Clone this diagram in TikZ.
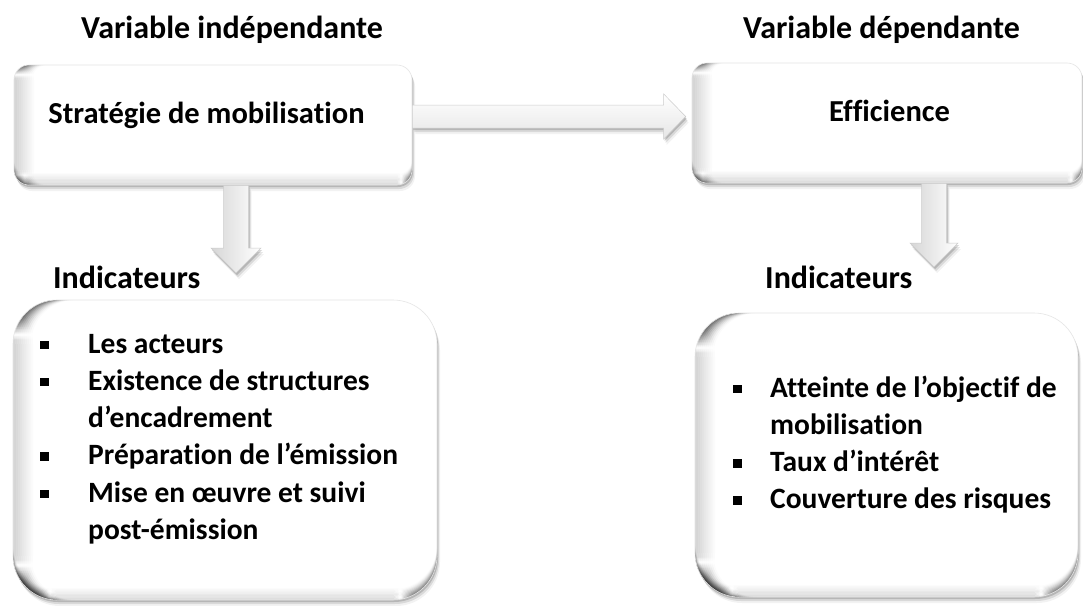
\documentclass[tikz,border=0pt]{standalone}
\usepackage{fontspec}
\setmainfont{Carlito}[Ligatures=CommonOff]
\usetikzlibrary{shadows,calc}
\newcommand\mybul{\raisebox{4pt}{\rule{8.5pt}{8.5pt}}}
\tikzset{
  softshadow/.style={
    general shadow={shadow xshift=3pt,shadow yshift=-6pt,fill=black,opacity=0.05},
    general shadow={shadow xshift=2pt,shadow yshift=-4pt,fill=black,opacity=0.10},
    general shadow={shadow xshift=1pt,shadow yshift=-2pt,fill=black,opacity=0.16}},
  bevelbox/.style={
    draw=black!10, line width=0.6pt, fill=white, softshadow,
    inner sep=0pt,
    path picture={
      \foreach \i [evaluate=\i as \op using {0.16*(1-\i/10)}] in {0,...,9} {
        \fill[black, opacity=\op]
          ($(path picture bounding box.north west)+(2*\i,0)$) rectangle
          ($(path picture bounding box.south west)+(2*\i+2,0)$);
        \fill[black, opacity=\op*0.8]
          ($(path picture bounding box.south west)+(0,-1.2*\i)$) rectangle
          ($(path picture bounding box.south east)+(0,-1.2*\i-1.2)$);
      }
    }},
  topbox/.style={bevelbox, rounded corners=15pt},
  listbox/.style={bevelbox, rounded corners=44pt},
  fatarrow/.style={draw=black!20, line width=0.5pt, line join=miter, softshadow},
  titletxt/.style={font=\fontsize{32}{38}\selectfont\bfseries, inner sep=0pt},
  boxtxt/.style={font=\fontsize{30.5}{37}\selectfont\bfseries, inner sep=0pt},
  listtxt/.style={font=\fontsize{29.5}{37.3}\selectfont\bfseries, inner sep=0pt},
}
\begin{document}
\begin{tikzpicture}[x=1pt,y=-1pt]
\useasboundingbox[fill=white] (0,0) rectangle (1083,605);

% titles
\node[titletxt, anchor=base] (vi) at (232,38) {Variable indépendante};
\node[titletxt, anchor=base] (vd) at (881.5,38) {Variable dépendante};

% top boxes
\node[topbox, minimum width=398pt, minimum height=120pt] (b1) at (213,125) {};
\node[topbox, minimum width=390pt, minimum height=120pt] (b2) at (887,123) {};
\node[boxtxt, anchor=base] (t1) at (206.5,123) {Stratégie de mobilisation};
\node[boxtxt, anchor=base] (t2) at (889.5,121) {Efficience};

% horizontal arrow from b1 to b2
\coordinate (ha) at (b1.east |- 0,116.5);
\coordinate (hb) at ($(b2.west |- ha)+(-6,0)$);
\draw[fatarrow, top color=white, bottom color=black!10]
  ($(ha)+(0,-11.5)$) -- ($(hb)+(-22,-11.5)$) -- ($(hb)+(-22,-22.5)$) -- (hb)
  -- ($(hb)+(-22,22.5)$) -- ($(hb)+(-22,11.5)$) -- ($(ha)+(0,11.5)$) -- cycle;

% down arrows
\coordinate (dl) at (b1.south -| 236,0);
\coordinate (dlt) at (236,273);
\draw[fatarrow, left color=black!16, right color=white]
  ($(dl)+(-12.5,0)$) -- ($(dlt)+(-12.5,-25)$) -- ($(dlt)+(-25,-25)$) -- (dlt)
  -- ($(dlt)+(25,-25)$) -- ($(dlt)+(12.5,-25)$) -- ($(dl)+(12.5,0)$) -- cycle;
\coordinate (dr) at (b2.south -| 934,0);
\coordinate (drt) at (934,267);
\draw[fatarrow, left color=black!16, right color=white]
  ($(dr)+(-12.5,0)$) -- ($(drt)+(-12.5,-24)$) -- ($(drt)+(-24,-24)$) -- (drt)
  -- ($(drt)+(24,-24)$) -- ($(drt)+(12.5,-24)$) -- ($(dr)+(12.5,0)$) -- cycle;

% indicator labels
\node[titletxt, anchor=base west] (il) at (53,288) {Indicateurs};
\node[titletxt, anchor=base west] (ir) at (765,288) {Indicateurs};

% list boxes
\node[listbox, minimum width=424pt, minimum height=300pt] (b3) at (225,450) {};
\node[listbox, minimum width=383pt, minimum height=284pt] (b4) at (886.5,455) {};

\node[listtxt, anchor=base west] (l1) at (40,353) {%
  \begin{tabular}[t]{@{}p{48pt}@{}l@{}}
  \mybul & Les acteurs\\
  \mybul & Existence de structures\\
         & d’encadrement\\
  \mybul & Préparation de l’émission\\
  \mybul & Mise en œuvre et suivi\\
         & post-émission
  \end{tabular}};

\node[listtxt, anchor=base west] (l2) at (733,397) {%
  \begin{tabular}[t]{@{}p{37pt}@{}l@{}}
  \mybul & Atteinte de l’objectif de\\
         & mobilisation\\
  \mybul & Taux d’intérêt\\
  \mybul & Couverture des risques
  \end{tabular}};
\end{tikzpicture}
\end{document}
